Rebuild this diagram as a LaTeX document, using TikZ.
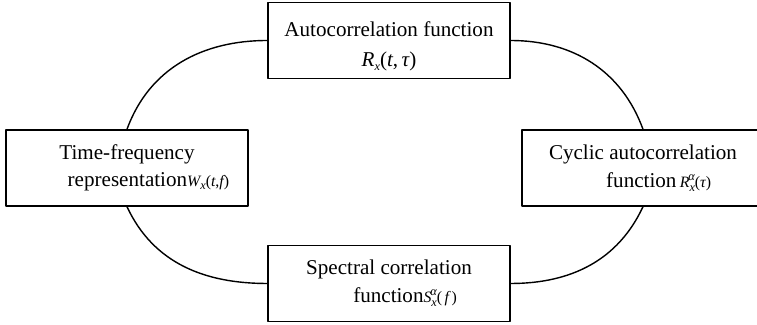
\documentclass[tikz,border=0pt]{standalone}
\usepackage{xcolor}
\usepackage{amsmath}
\usepackage{fontspec}
\setmainfont{Liberation Serif}
\usepackage{tikz}
\usetikzlibrary{calc}
\newcommand{\sub}[1]{\raisebox{-.4ex}{\scriptsize\itshape #1}}
\newcommand{\subsup}[2]{\raisebox{-.55ex}{\scriptsize\itshape #1}\kern-.42em\raisebox{.95ex}{\scriptsize\itshape #2}}
\tikzstyle{every node}=[font=\fontsize{12}{15}\selectfont]

\begin{document}
\begin{tikzpicture}[line cap=round,line join=round,x=1.0cm,y=1.0cm,
  funcbox/.style={draw,line width=.8pt,minimum width=4.84cm,minimum height=1.52cm,align=center,inner sep=0pt}]
            \useasboundingbox (0,0) rectangle (15.14,6.5);
            \node [funcbox] (acf) at (7.78,5.69) {\raisebox{-.12cm}[\height][\depth]{\begin{tabular}{@{}c@{}}Autocorrelation function\\[2pt] {\large\itshape R\sub{x}\upshape(\itshape t\upshape,\,\itshape τ\upshape)}\end{tabular}}};
            \node [funcbox] (tfr) at (2.54,3.14) {Time-frequency\\ \hphantom{\small\itshape W\sub{x}\upshape(t,f)}representation{\small\itshape W\sub{x}\upshape(\itshape t\upshape,\itshape f\upshape)}};
            \node [funcbox] (caf) at (12.86,3.14) {Cyclic autocorrelation\\[1pt] \hphantom{\small\itshape R\sub{x}(τ)}function\,{\small\itshape R\subsup{x}{α}\upshape(\itshape τ\upshape)}};
            \node [funcbox] (scf) at (7.78,0.83) {Spectral correlation\\[1pt] \hphantom{\small\itshape S\sub{x}\ (f)}function{\small\itshape S\subsup{x}{α}\upshape(\,\itshape f\upshape\,)}};
            \draw [line width=.8pt] (acf.west) to[out=180,in=70] (tfr.north);
            \draw [line width=.8pt] (acf.east) to[out=0,in=110] (caf.north);
            \draw [line width=.8pt] (tfr.south) to[out=-65,in=180] (scf.west);
            \draw [line width=.8pt] (scf.east) to[out=0,in=-115] (caf.south);
\end{tikzpicture}
\end{document}
